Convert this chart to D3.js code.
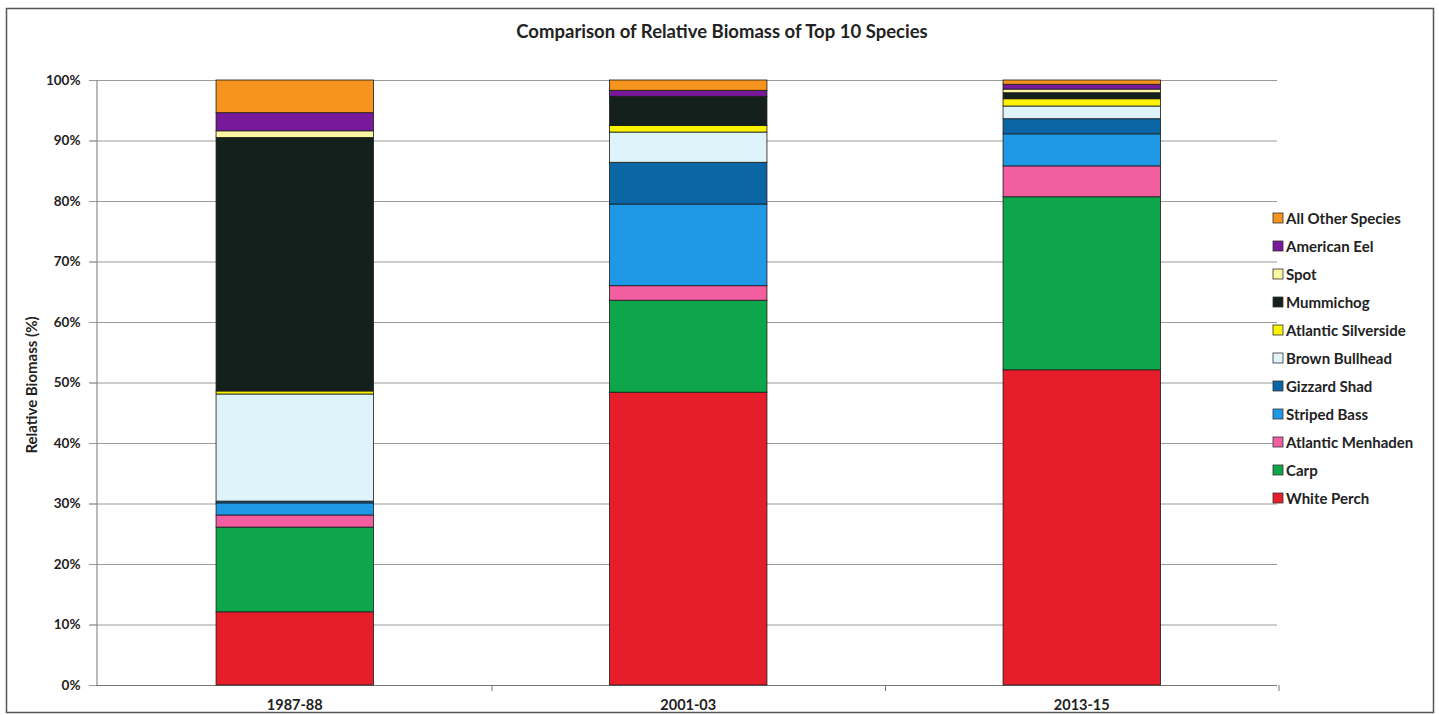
<!DOCTYPE html>
<html><head><meta charset="utf-8">
<script src="https://cdn.jsdelivr.net/npm/d3@7"></script>
<style>html,body{margin:0;padding:0;background:#fff;} svg{display:block;font-family:Lato,"Open Sans",sans-serif;}</style>
</head><body>
<script>
const periods = ["1987-88", "2001-03", "2013-15"];
const species = ["White Perch","Carp","Atlantic Menhaden","Striped Bass","Gizzard Shad","Brown Bullhead","Atlantic Silverside","Mummichog","Spot","American Eel","All Other Species"];
const colors = ["#e61e2b","#0ea64a","#f35ea0","#1f98e6","#0b66a6","#dff4fa","#fbf200","#14201b","#fbf6a2","#78189a","#f7941d"];
const whitePerch = [12.1, 48.4, 52.1];
const carp = [14.0, 15.2, 28.6];
const menhaden = [2.0, 2.4, 5.1];
const stripedBass = [2.0, 13.5, 5.3];
const gizzardShad = [0.3, 6.9, 2.5];
const brownBullhead = [17.7, 5.0, 2.1];
const silverside = [0.5, 1.1, 1.2];
const mummichog = [41.9, 4.8, 1.0];
const spot = [1.1, 0.0, 0.6];
const americanEel = [3.0, 1.0, 0.8];
const allOther = [5.4, 1.7, 0.7];
const yTicks = [0,10,20,30,40,50,60,70,80,90,100];

const series = [whitePerch, carp, menhaden, stripedBass, gizzardShad, brownBullhead, silverside, mummichog, spot, americanEel, allOther];
const rows = periods.map((p,i)=>{const r={period:p}; species.forEach((s,j)=>r[s]=series[j][i]); return r;});

const W=1439,H=715;
const svg=d3.select("body").append("svg").attr("width",W).attr("height",H);
svg.append("rect").attr("x",6.5).attr("y",8.5).attr("width",1427).attr("height",704).attr("fill","#fff").attr("stroke","#555").attr("stroke-width",1.5);

const m={l:96,r:1277,t:80,b:685};
const x=d3.scaleBand().domain(periods).range([98,1278.5]).paddingInner(0.6).paddingOuter(0.3);
const y=d3.scaleLinear().domain([0,100]).range([m.b,m.t]);
const step=x.step();

// gridlines
svg.append("g").selectAll("line").data(yTicks).join("line")
  .attr("x1",m.l-7).attr("x2",m.r).attr("y1",d=>y(d)+0.5).attr("y2",d=>y(d)+0.5)
  .attr("stroke","#9a9a9a").attr("stroke-width",1);

// y axis
const ya=svg.append("g").attr("transform",`translate(${m.l+0.5},0)`).call(d3.axisLeft(y).tickValues(yTicks).tickFormat(d=>d+"%").tickSize(7));
ya.select(".domain").attr("stroke","#777");
ya.selectAll(".tick line").attr("stroke","#9a9a9a");
ya.selectAll("text").attr("font-size",13.5).attr("font-weight","bold").attr("fill","#222").attr("x",-16).attr("font-family","Lato");

// x axis
const xa=svg.append("g").attr("transform",`translate(0,${m.b+0.5})`).call(d3.axisBottom(x).tickSize(0));
xa.select(".domain").remove();
xa.selectAll("text").attr("font-size",14.5).attr("font-weight","bold").attr("fill","#222").attr("dy","1.45em").attr("font-family","Lato");
svg.append("line").attr("x1",m.l).attr("x2",m.r).attr("y1",m.b+0.5).attr("y2",m.b+0.5).attr("stroke","#777");
svg.append("g").selectAll("line").data(d3.range(1,4)).join("line")
  .attr("x1",i=>98+i*step+0.5).attr("x2",i=>98+i*step+0.5).attr("y1",m.b).attr("y2",m.b+6).attr("stroke","#777");

// stacked bars
const stack=d3.stack().keys(species)(rows);
svg.append("g").selectAll("g").data(stack).join("g").attr("fill",(d,i)=>colors[i])
  .selectAll("rect").data(d=>d.filter(v=>v[1]-v[0]>0)).join("rect")
  .attr("x",d=>x(d.data.period)).attr("width",x.bandwidth())
  .attr("y",d=>y(d[1])).attr("height",d=>y(d[0])-y(d[1]))
  .attr("stroke","#1a1a1a").attr("stroke-width",0.8);

// title
svg.append("text").attr("x",722).attr("y",38).attr("text-anchor","middle").attr("font-size",18.5).attr("font-weight","bold").attr("fill","#222").text("Comparison of Relative Biomass of Top 10 Species");

// y title
svg.append("text").attr("transform","translate(37,385) rotate(-90)").attr("text-anchor","middle").attr("font-size",15).attr("font-weight","bold").attr("fill","#222").text("Relative Biomass (%)");

// legend
const legendItems = species.map((s,i)=>({s,c:colors[i]})).reverse();
const lg=svg.append("g").selectAll("g").data(legendItems).join("g").attr("transform",(d,i)=>`translate(1273,${218+i*28})`);
lg.append("rect").attr("x",0).attr("y",-5).attr("width",10).attr("height",10).attr("fill",d=>d.c).attr("stroke","#333").attr("stroke-width",0.8);
lg.append("text").attr("x",13).attr("y",5.5).attr("font-size",15).attr("font-weight","bold").attr("fill","#222").text(d=>d.s);
</script>
</body></html>
